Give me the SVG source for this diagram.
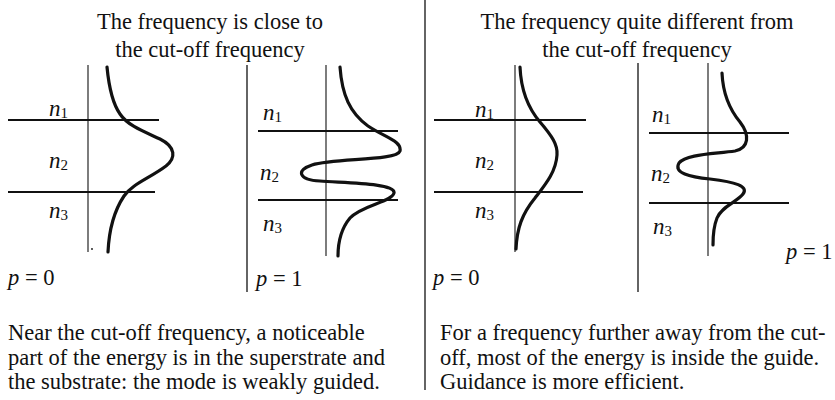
<svg xmlns="http://www.w3.org/2000/svg" width="835" height="400" viewBox="0 0 835 400">
<style>
text{font-family:"Liberation Serif","Times New Roman",serif;fill:#111;}
.t{font-size:22.5px;}
.n{font-size:23px;font-style:italic;}
.s{font-size:15px;font-style:normal;}
.p{font-size:22.5px;}
.i{font-style:italic;}
.ax{stroke:#111;stroke-width:1.1;fill:none;}
.sep{stroke:#111;stroke-width:1.3;fill:none;}
.lay{stroke:#111;stroke-width:2.2;fill:none;}
.cv{stroke:#111;stroke-width:3.2;fill:none;stroke-linecap:round;stroke-linejoin:round;}
</style>
<rect width="835" height="400" fill="#fff"/>
<g id="separators">
<line class="sep" x1="425" y1="0" x2="425" y2="390"/>
<line class="sep" x1="247" y1="65" x2="247" y2="292"/>
<line class="sep" x1="638" y1="63" x2="638" y2="292"/>
</g>
<g id="titles">
<text class="t" x="210" y="29" text-anchor="middle">The frequency is close to</text>
<text class="t" x="210" y="57" text-anchor="middle">the cut-off frequency</text>
<text class="t" x="637" y="29" text-anchor="middle">The frequency quite different from</text>
<text class="t" x="637" y="57" text-anchor="middle">the cut-off frequency</text>
</g>
<g id="panel1">
<line class="ax" x1="88" y1="65" x2="88" y2="252"/>
<line class="lay" x1="8" y1="120" x2="159" y2="120"/>
<line class="lay" x1="8" y1="192" x2="155" y2="192"/>
<circle cx="92" cy="249" r="0.9" fill="#111"/>
<path class="cv" d="M107,67 C109,88 113,104 120,114 C128,126 145,132 160,139 C176,147 176,158 166,166 C150,178 132,184 124,196 C114,211 109,230 108,252"/>
<text class="n" x="49" y="116">n<tspan class="s" dy="2">1</tspan></text>
<text class="n" x="49" y="168">n<tspan class="s" dy="2">2</tspan></text>
<text class="n" x="49" y="218">n<tspan class="s" dy="2">3</tspan></text>
<text class="p" x="8" y="285"><tspan class="i">p</tspan> = 0</text>
</g>
<g id="panel2">
<line class="ax" x1="326" y1="65" x2="326" y2="256"/>
<line class="lay" x1="258" y1="131" x2="398" y2="131"/>
<line class="lay" x1="258" y1="200" x2="398" y2="200"/>
<path class="cv" d="M340,67 C342,95 350,113 368,126 C386,138 402,141 400,151 C397,161 335,158 312,165 C296,170 298,180 320,181 C345,183 396,183 394,193 C392,202 362,205 350,218 C340,230 338,244 338,256"/>
<text class="n" x="263" y="120">n<tspan class="s" dy="2">1</tspan></text>
<text class="n" x="260" y="180">n<tspan class="s" dy="2">2</tspan></text>
<text class="n" x="263" y="231">n<tspan class="s" dy="2">3</tspan></text>
<text class="p" x="256" y="286"><tspan class="i">p</tspan> = 1</text>
</g>
<g id="panel3">
<line class="ax" x1="515" y1="65" x2="515" y2="252"/>
<line class="lay" x1="434" y1="120" x2="586" y2="120"/>
<line class="lay" x1="434" y1="192" x2="583" y2="192"/>
<path class="cv" d="M520,67 C521,90 528,108 540,122 C552,136 558,145 557,155 C556,172 545,185 535,198 C522,214 517,228 516,249"/>
<text class="n" x="475" y="117">n<tspan class="s" dy="2">1</tspan></text>
<text class="n" x="475" y="168">n<tspan class="s" dy="2">2</tspan></text>
<text class="n" x="475" y="218">n<tspan class="s" dy="2">3</tspan></text>
<text class="p" x="433" y="285"><tspan class="i">p</tspan> = 0</text>
</g>
<g id="panel4">
<line class="ax" x1="708" y1="63" x2="708" y2="256"/>
<line class="lay" x1="649" y1="133" x2="789" y2="133"/>
<line class="lay" x1="649" y1="203" x2="789" y2="203"/>
<path class="cv" d="M722,73 C723,95 730,110 740,122 C750,135 749,148 735,151 C715,154 686,154 679,163 C673,173 690,177 710,179 C735,182 749,186 743,194 C737,202 722,206 717,218 C713,228 713,238 713,245"/>
<text class="n" x="652" y="122">n<tspan class="s" dy="2">1</tspan></text>
<text class="n" x="651" y="181">n<tspan class="s" dy="2">2</tspan></text>
<text class="n" x="653" y="234">n<tspan class="s" dy="2">3</tspan></text>
<text class="p" x="786" y="259"><tspan class="i">p</tspan> = 1</text>
</g>
<g id="captions">
<text class="t" x="8" y="340">Near the cut-off frequency, a noticeable</text>
<text class="t" x="8" y="365">part of the energy is in the superstrate and</text>
<text class="t" x="8" y="389">the substrate: the mode is weakly guided.</text>
<text class="t" x="440" y="340">For a frequency further away from the cut-</text>
<text class="t" x="440" y="365">off, most of the energy is inside the guide.</text>
<text class="t" x="440" y="389">Guidance is more efficient.</text>
</g>
</svg>
